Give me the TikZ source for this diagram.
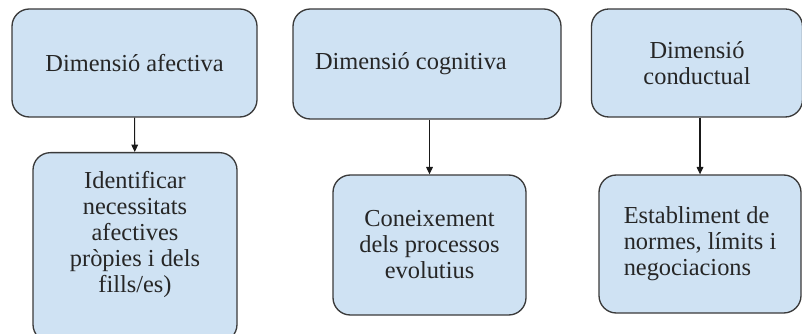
\documentclass[tikz,border=0pt]{standalone}
\usepackage{fontspec}
\setmainfont{Liberation Serif}
\usetikzlibrary{arrows.meta}
\definecolor{boxblue}{HTML}{CFE2F3}
\definecolor{boxline}{HTML}{3A3A3A}
\begin{document}
\begin{tikzpicture}[x=0.75pt,y=-0.75pt,
  dimbox/.style={draw=boxline,line width=1pt,fill=boxblue,rounded corners=13pt,
    font=\fontsize{18.3pt}{19.5pt}\selectfont,text=black!85,align=center,inner sep=0pt},
  link/.style={color=black!90,line width=0.8pt,-{Triangle[width=5pt,length=5.5pt]}}]

\useasboundingbox (0,0) rectangle (802,334);
\clip (0,0) rectangle (802,334);

% top row
\node[dimbox,minimum width=183.75pt,minimum height=81pt] (afectiva) at (134.5,63) {Dimensió afectiva};
\node[dimbox,minimum width=201pt,minimum height=82.5pt,text width=168pt,align=flush left] (cognitiva) at (427,64) {Dimensió cognitiva};
\node[dimbox,minimum width=158.25pt,minimum height=81pt] (conductual) at (697,63) {Dimensió\\conductual};

% bottom row
\node[dimbox,minimum width=153pt,anchor=north,inner ysep=14pt,text depth=23pt] (necessitats) at (135,152)
  {Identificar\\necessitats\\afectives\\pròpies i dels\\fills/es)};
\node[dimbox,minimum width=144.75pt,minimum height=105pt] (processos) at (429.5,245)
  {Coneixement\\dels processos\\evolutius};
\node[dimbox,minimum width=151.5pt,minimum height=103.5pt,align=flush left] (normes) at (700,244)
  {Establiment de\\normes, límits i\\negociacions};

\draw[link] (afectiva) -- (necessitats);
\draw[link] (processos.north |- cognitiva.south) -- (processos.north);
\draw[link] (normes.north |- conductual.south) -- (normes.north);

\end{tikzpicture}
\end{document}
